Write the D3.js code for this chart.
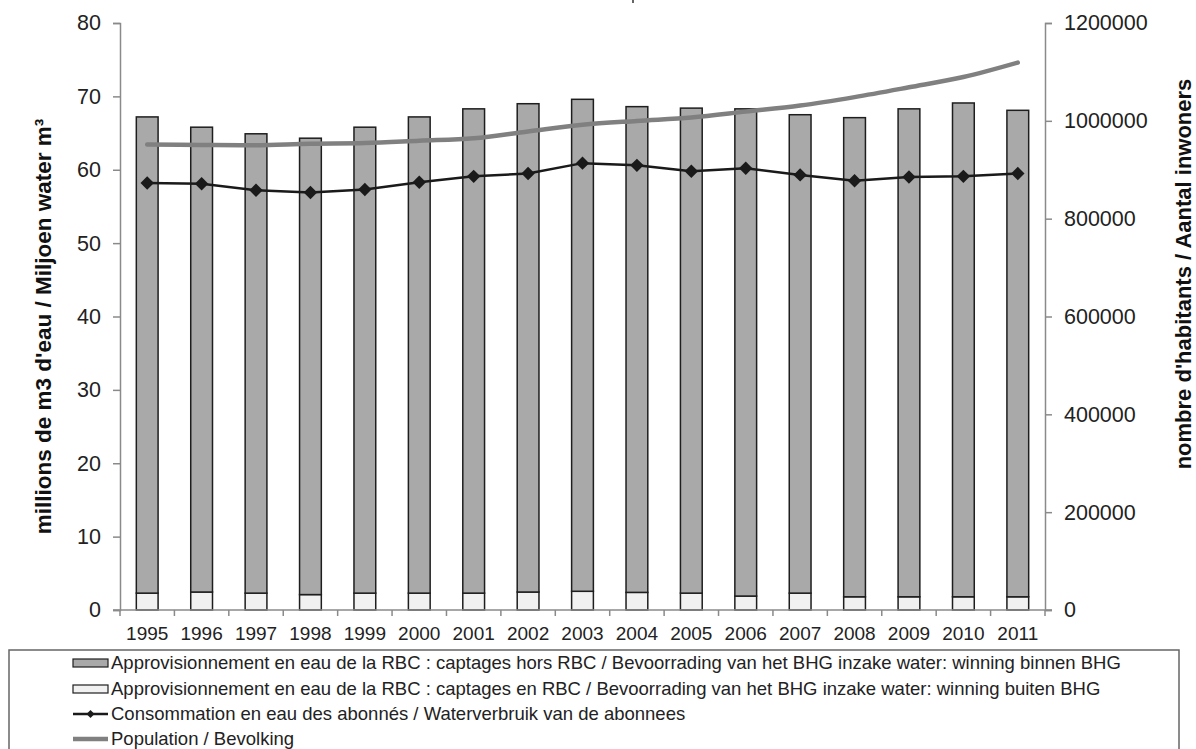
<!DOCTYPE html>
<html>
<head>
<meta charset="utf-8">
<script src="https://cdn.jsdelivr.net/npm/d3@7"></script>
<style>
  html, body { margin: 0; padding: 0; background: #fff; }
  svg { display: block; font-family: "Liberation Sans", Arial, sans-serif; }
</style>
</head>
<body>
<svg id="chart" width="1196" height="749"></svg>
<script>
// Water supply and consumption in the Brussels-Capital Region, 1995-2011
const years = ["1995","1996","1997","1998","1999","2000","2001","2002","2003","2004","2005","2006","2007","2008","2009","2010","2011"];

// million m3 — supply captured outside the region (dark segment)
const supplyOutside = [64.9, 63.35, 62.6, 62.2, 63.5, 64.9, 66.0, 66.55, 67.05, 66.2, 66.1, 66.4, 65.2, 65.3, 66.5, 67.3, 66.3];
// million m3 — supply captured inside the region (light segment)
const supplyInside = [2.3, 2.45, 2.3, 2.1, 2.3, 2.3, 2.3, 2.45, 2.55, 2.4, 2.3, 1.9, 2.3, 1.8, 1.8, 1.8, 1.8];
// million m3 — consumption by subscribers
const consumption = [58.2, 58.1, 57.2, 56.9, 57.3, 58.3, 59.1, 59.5, 60.9, 60.6, 59.8, 60.2, 59.3, 58.5, 59.0, 59.1, 59.5];
// inhabitants
const population = [951580, 950597, 950339, 953175, 954460, 959318, 964405, 978384, 992041, 999899, 1006749, 1018804, 1031215, 1048491, 1068532, 1089538, 1119088];

const leftTicks = [0, 10, 20, 30, 40, 50, 60, 70, 80];
const rightTicks = [0, 200000, 400000, 600000, 800000, 1000000, 1200000];

const legendLabels = [
  "Approvisionnement en eau de la RBC : captages hors RBC / Bevoorrading van het BHG inzake water: winning binnen BHG",
  "Approvisionnement en eau de la RBC : captages en RBC / Bevoorrading van het BHG inzake water: winning buiten BHG",
  "Consommation en eau des abonnés / Waterverbruik van de abonnees",
  "Population / Bevolking"
];

const leftTitle = "millions de m3 d'eau / Miljoen water m³";
const rightTitle = "nombre d'habitants / Aantal inwoners";

const colDark = "#a9a9a9", colLight = "#f1f1f1", colEdge = "#1e1e1e";
const colPop = "#808080", colCons = "#1a1a1a", colAxis = "#8a8a8a";

const svg = d3.select("#chart");
const plot = { left: 120, right: 1045, top: 23, bottom: 610 };

const x = d3.scaleBand().domain(years).range([plot.left, plot.right]).paddingInner(0.6).paddingOuter(0.3);
const yL = d3.scaleLinear().domain([0, 80]).range([plot.bottom, plot.top]);
const yR = d3.scaleLinear().domain([0, 1200000]).range([plot.bottom, plot.top]);
const cx = d => x(d) + x.bandwidth() / 2;

// stacked bars
const rows = years.map((y, i) => ({ year: y, inside: supplyInside[i], outside: supplyOutside[i] }));
const stack = d3.stack().keys(["inside", "outside"])(rows);
const fills = { inside: colLight, outside: colDark };

svg.append("g").selectAll("g").data(stack).join("g")
  .attr("fill", s => fills[s.key])
  .selectAll("rect").data(s => s).join("rect")
  .attr("x", d => x(d.data.year))
  .attr("width", x.bandwidth())
  .attr("y", d => yL(d[1]))
  .attr("height", d => yL(d[0]) - yL(d[1]))
  .attr("stroke", colEdge)
  .attr("stroke-width", 1.5);

// left axis
const axL = svg.append("g").attr("transform", `translate(${plot.left},0)`)
  .call(d3.axisLeft(yL).tickValues(leftTicks).tickSize(7).tickPadding(12));
axL.select(".domain").attr("stroke", colAxis).attr("stroke-width", 1.5);
axL.selectAll(".tick line").attr("stroke", colAxis).attr("stroke-width", 1.5);
axL.selectAll(".tick text").attr("font-size", 21.5).attr("fill", "#222").attr("font-family", "Liberation Sans, Arial, sans-serif");

// right axis
const axR = svg.append("g").attr("transform", `translate(${plot.right},0)`)
  .call(d3.axisRight(yR).tickValues(rightTicks).tickFormat(d3.format("d")).tickSize(7).tickPadding(12));
axR.select(".domain").attr("stroke", colAxis).attr("stroke-width", 1.5);
axR.selectAll(".tick line").attr("stroke", colAxis).attr("stroke-width", 1.5);
axR.selectAll(".tick text").attr("font-size", 21.5).attr("fill", "#222").attr("font-family", "Liberation Sans, Arial, sans-serif");

// bottom axis: ticks on category boundaries, labels centred on categories
const bounds = d3.range(years.length + 1).map(i => plot.left + i * x.step());
const axB = svg.append("g");
axB.append("line").attr("x1", plot.left - 7).attr("x2", plot.right + 7)
  .attr("y1", plot.bottom).attr("y2", plot.bottom)
  .attr("stroke", colAxis).attr("stroke-width", 1.5);
axB.selectAll("line.tk").data(bounds).join("line").attr("class", "tk")
  .attr("x1", d => d).attr("x2", d => d)
  .attr("y1", plot.bottom).attr("y2", plot.bottom + 6)
  .attr("stroke", colAxis).attr("stroke-width", 1.5);
axB.selectAll("text").data(years).join("text")
  .attr("x", d => cx(d)).attr("y", 640)
  .attr("text-anchor", "middle").attr("font-size", 19).attr("fill", "#222")
  .text(d => d);

// consumption line with diamond markers
svg.append("path")
  .datum(consumption)
  .attr("fill", "none").attr("stroke", colCons).attr("stroke-width", 2.5)
  .attr("d", d3.line().x((d, i) => cx(years[i])).y(d => yL(d)));
svg.append("g").selectAll("path").data(consumption).join("path")
  .attr("transform", (d, i) => `translate(${cx(years[i])},${yL(d)})`)
  .attr("d", d3.symbol(d3.symbolDiamond2, 115))
  .attr("fill", colCons);

// population line (smoothed)
svg.append("path")
  .datum(population)
  .attr("fill", "none").attr("stroke", colPop).attr("stroke-width", 4.5).attr("stroke-linecap", "round")
  .attr("d", d3.line().curve(d3.curveCatmullRom).x((d, i) => cx(years[i])).y(d => yR(d)));

// axis titles
svg.append("text")
  .attr("transform", `translate(51,${(113 + 540) / 2}) rotate(-90)`)
  .attr("text-anchor", "middle").attr("font-size", 22.5).attr("font-weight", "bold").attr("fill", "#111")
  .text(leftTitle);
svg.append("text")
  .attr("transform", `translate(1191,${274}) rotate(-90)`)
  .attr("text-anchor", "middle").attr("font-size", 22).attr("font-weight", "bold").attr("fill", "#111")
  .text(rightTitle);

// stray mark above the plot
svg.append("line").attr("x1", 633).attr("x2", 633).attr("y1", 0).attr("y2", 3)
  .attr("stroke", "#333").attr("stroke-width", 1.5);

// legend
const lg = svg.append("g");
lg.append("rect").attr("x", 9).attr("y", 650).attr("width", 1170).attr("height", 120)
  .attr("fill", "#fff").attr("stroke", "#666").attr("stroke-width", 1.5);
const rowY = [663, 689, 714, 739];
const keyX0 = 73, keyX1 = 108, textX = 111;
legendLabels.forEach((lab, i) => {
  const g = lg.append("g");
  const yy = rowY[i];
  if (i < 2) {
    g.append("rect").attr("x", keyX0).attr("y", yy - 4).attr("width", keyX1 - keyX0).attr("height", 8)
      .attr("fill", i === 0 ? colDark : colLight).attr("stroke", colEdge).attr("stroke-width", 1.2);
  } else if (i === 2) {
    g.append("line").attr("x1", keyX0).attr("x2", keyX1).attr("y1", yy).attr("y2", yy)
      .attr("stroke", colCons).attr("stroke-width", 2.5);
    g.append("path").attr("transform", `translate(${(keyX0 + keyX1) / 2},${yy})`)
      .attr("d", d3.symbol(d3.symbolDiamond2, 40)).attr("fill", colCons);
  } else {
    g.append("line").attr("x1", keyX0).attr("x2", keyX1).attr("y1", yy).attr("y2", yy)
      .attr("stroke", colPop).attr("stroke-width", 4.5);
  }
  g.append("text").attr("x", textX).attr("y", yy).attr("dy", "0.35em")
    .attr("font-size", 18.5).attr("fill", "#222").text(lab);
});
</script>
</body>
</html>
